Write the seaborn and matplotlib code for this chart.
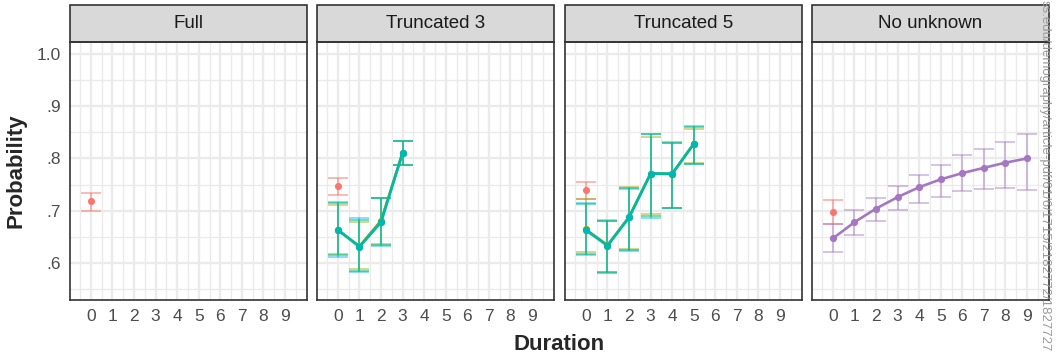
import numpy as np
import pandas as pd
import matplotlib.pyplot as plt
import seaborn as sns
from matplotlib.patches import Rectangle
from matplotlib.ticker import MultipleLocator, FixedLocator

# ---- data ----
panels = ["Full", "Truncated 3", "Truncated 5", "No unknown"]
x_ticks = list(range(10))
y_ticks = [0.6, 0.7, 0.8, 0.9, 1.0]
y_ticklabels = [".6", ".7", ".8", ".9", "1.0"]

# red reference estimate at duration 0 in each panel
ref_est = [0.718, 0.748, 0.739, 0.698]
ref_lo = [0.700, 0.731, 0.722, 0.675]
ref_hi = [0.733, 0.763, 0.754, 0.721]

# Truncated 3: three almost identical variants
t3_dur = [0, 1, 2, 3]
t3_est = [0.663, 0.631, 0.678, 0.811]
t3_olive_est = [0.663, 0.632, 0.681, 0.811]
t3_green_lo = [0.615, 0.585, 0.635, 0.787]
t3_green_hi = [0.714, 0.683, 0.724, 0.833]
t3_olive_lo = [0.617, 0.588, 0.637, 0.787]
t3_olive_hi = [0.711, 0.679, 0.724, 0.833]
t3_blue_lo = [0.612, 0.583, 0.633, 0.787]
t3_blue_hi = [0.716, 0.686, 0.724, 0.833]

# Truncated 5
t5_dur = [0, 1, 2, 3, 4, 5]
t5_est = [0.663, 0.633, 0.687, 0.771, 0.771, 0.828]
t5_olive_est = [0.664, 0.634, 0.688, 0.771, 0.770, 0.828]
t5_green_lo = [0.618, 0.581, 0.624, 0.689, 0.705, 0.790]
t5_green_hi = [0.712, 0.681, 0.744, 0.846, 0.830, 0.860]
t5_olive_lo = [0.620, 0.583, 0.627, 0.694, 0.705, 0.791]
t5_olive_hi = [0.722, 0.683, 0.746, 0.842, 0.829, 0.857]
t5_blue_lo = [0.616, 0.583, 0.622, 0.686, 0.705, 0.790]
t5_blue_hi = [0.714, 0.680, 0.741, 0.846, 0.831, 0.862]

# No unknown
nu_dur = list(range(10))
nu_est = [0.647, 0.678, 0.704, 0.726, 0.745, 0.760, 0.772, 0.782, 0.792, 0.800]
nu_lo = [0.620, 0.654, 0.681, 0.702, 0.715, 0.727, 0.738, 0.742, 0.743, 0.740]
nu_hi = [0.675, 0.702, 0.725, 0.748, 0.769, 0.788, 0.806, 0.819, 0.832, 0.846]

RED = "#F8766D"
OLIVE = "#A3A500"
GREEN = "#00BF7D"
BLUE = "#00B0F6"
PURPLE = "#A577C2"

sns.set_style("white")
plt.rcParams["font.family"] = ["Liberation Sans", "DejaVu Sans"]

fig = plt.figure(figsize=(10.56, 3.56), dpi=100)
W, H = 1056.0, 356.0
lefts = [70, 317, 565, 812]
pw, top, bottom = 237, 42, 300


def errbars(ax, x, est, lo, hi, color, alpha=0.45):
    est = np.asarray(est)
    yerr = [est - np.asarray(lo), np.asarray(hi) - est]
    ax.errorbar(x, est, yerr=yerr, fmt="none", ecolor=color, alpha=alpha,
                elinewidth=1.4, capsize=7.5, capthick=1.4, zorder=3)


def line(ax, x, est, color, alpha=1.0):
    df = pd.DataFrame({"Duration": x, "Probability": est})
    sns.lineplot(data=df, x="Duration", y="Probability", ax=ax, color=color,
                 alpha=alpha, linewidth=1.9, marker="o", markersize=5.2,
                 markeredgewidth=0, zorder=4)


axes = []
for i, name in enumerate(panels):
    ax = fig.add_axes([lefts[i] / W, (H - bottom) / H, pw / W, (bottom - top) / H])
    axes.append(ax)
    ax.set_xlim(-0.97, 10.02)
    ax.set_ylim(0.529, 1.023)
    ax.xaxis.set_major_locator(FixedLocator(x_ticks))
    ax.xaxis.set_minor_locator(MultipleLocator(0.5))
    ax.yaxis.set_major_locator(FixedLocator(y_ticks))
    ax.yaxis.set_minor_locator(FixedLocator([0.55, 0.65, 0.75, 0.85, 0.95]))
    ax.grid(which="major", color="#EBEBEB", linewidth=1.7, zorder=0)
    ax.grid(which="minor", color="#EBEBEB", linewidth=1.0, zorder=0)
    ax.set_axisbelow(True)
    for s in ax.spines.values():
        s.set_color("#333333")
        s.set_linewidth(1.2)
    ax.tick_params(axis="both", which="major", length=3.5, width=1.1,
                   color="#333333", labelcolor="#4D4D4D", labelsize=12.5, pad=3)
    ax.tick_params(axis="both", which="minor", length=0)
    ax.set_xticklabels([str(t) for t in x_ticks])
    if i == 0:
        ax.set_yticklabels(y_ticklabels)
    else:
        ax.tick_params(axis="y", labelleft=False, length=0)

    # facet strip
    sh = 37.0 / (bottom - top)
    ax.add_patch(Rectangle((0, 1), 1, sh, transform=ax.transAxes, clip_on=False,
                           facecolor="#D9D9D9", edgecolor="#333333", linewidth=1.2))
    ax.text(0.5, 1 + sh / 2, name, transform=ax.transAxes, ha="center",
            va="center", fontsize=13.5, color="#1A1A1A")

    # red reference point
    errbars(ax, [0], [ref_est[i]], [ref_lo[i]], [ref_hi[i]], RED, alpha=0.5)
    ax.scatter([0], [ref_est[i]], color=RED, s=26, linewidths=0, zorder=5)

# Truncated 3
ax = axes[1]
errbars(ax, t3_dur, t3_est, t3_olive_lo, t3_olive_hi, OLIVE)
errbars(ax, t3_dur, t3_est, t3_blue_lo, t3_blue_hi, BLUE)
errbars(ax, t3_dur, t3_est, t3_green_lo, t3_green_hi, GREEN, alpha=0.55)
line(ax, t3_dur, t3_olive_est, OLIVE)
line(ax, t3_dur, t3_est, GREEN)
line(ax, t3_dur, t3_est, BLUE, alpha=0.35)

# Truncated 5
ax = axes[2]
errbars(ax, t5_dur, t5_est, t5_olive_lo, t5_olive_hi, OLIVE)
errbars(ax, t5_dur, t5_est, t5_blue_lo, t5_blue_hi, BLUE)
errbars(ax, t5_dur, t5_est, t5_green_lo, t5_green_hi, GREEN, alpha=0.55)
line(ax, t5_dur, t5_olive_est, OLIVE)
line(ax, t5_dur, t5_est, GREEN)
line(ax, t5_dur, t5_est, BLUE, alpha=0.35)

# No unknown
ax = axes[3]
errbars(ax, nu_dur, nu_est, nu_lo, nu_hi, PURPLE, alpha=0.45)
line(ax, nu_dur, nu_est, PURPLE)

for ax in axes:
    ax.set_xlabel("")
    ax.set_ylabel("")

fig.text(559 / W, 1 - 344 / H, "Duration", ha="center", va="center",
         fontsize=16, fontweight="bold")
fig.text(16 / W, 1 - 171 / H, "Probability", ha="center", va="center",
         rotation=90, fontsize=16, fontweight="bold")

# download stamp along the right edge
fig.text(1045 / W, 1.0, "ss.edu/demography/article-pdf/61/6/1715/2182772/1827727",
         rotation=270, ha="center", va="top", fontsize=9.5, color="#9A9A9A")

fig.savefig("out.png", dpi=100)
